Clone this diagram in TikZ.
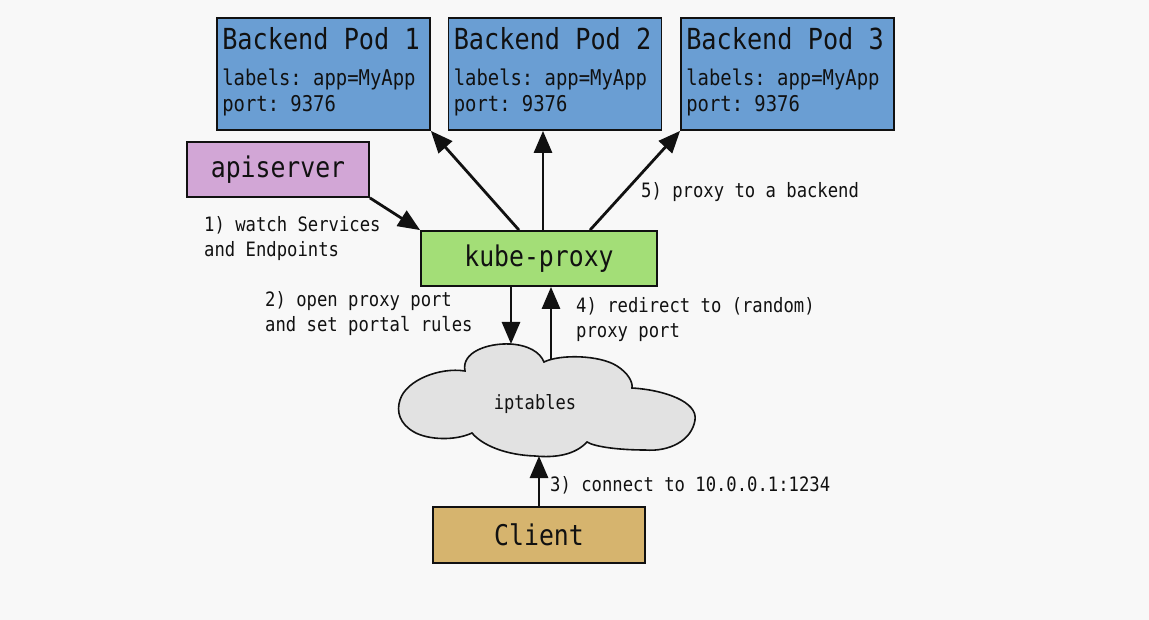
\documentclass[tikz,border=0pt]{standalone}
\usepackage{fontspec}
\setmonofont[FakeStretch=0.87]{DejaVu Sans Mono}
\usetikzlibrary{arrows.meta,calc}

\definecolor{bgwhite}{HTML}{F8F8F8}
\definecolor{podblue}{HTML}{6A9ED3}
\definecolor{apipurple}{HTML}{D2A6D6}
\definecolor{proxygreen}{HTML}{A3DE77}
\definecolor{clienttan}{HTML}{D6B46E}
\definecolor{cloudgray}{HTML}{E2E2E2}
\definecolor{ink}{HTML}{111111}

\begin{document}
\begin{tikzpicture}[x=1pt,y=-1pt,
  box/.style={draw=ink, line width=1.8pt, rectangle, inner sep=0pt},
  flow/.style={draw=ink, line width=2.8pt, -{Triangle[length=22pt,width=18pt]}},
  bigtext/.style={text=ink, font=\ttfamily\fontsize{28.5}{32}\selectfont},
  podline/.style={text=ink, font=\ttfamily\fontsize{21.7}{26}\selectfont, inner sep=0pt, anchor=base west},
  note/.style={text=ink, font=\ttfamily\fontsize{19.8}{25.5}\selectfont, align=left, inner sep=0pt, anchor=north west},
  pod/.style={box, fill=podblue, minimum width=213pt, minimum height=112pt},
]
% canvas
\fill[bgwhite] (0,0) rectangle (1149,620);
\useasboundingbox (0,0) rectangle (1149,620);

% backend pods
\foreach \i/\cx in {1/323.5, 2/555, 3/787.5} {
  \node[pod] (p\i) at (\cx,74) {};
  \node[podline, font=\ttfamily\fontsize{29}{32}\selectfont] (p\i t) at ([shift={(6,32)}]p\i.north west) {Backend Pod \i};
  \node[podline] (p\i l) at ([shift={(6,68)}]p\i.north west) {labels: app=MyApp};
  \node[podline] (p\i p) at ([shift={(6,94)}]p\i.north west) {port: 9376};
}

% control plane and proxy
\node[box, fill=apipurple, minimum width=182pt, minimum height=55pt, bigtext] (api) at (278,169.5) {apiserver};
\node[box, fill=proxygreen, minimum width=236pt, minimum height=55pt, bigtext] (kp) at (539,258.5) {kube-proxy};

% iptables cloud
\draw[draw=ink, fill=cloudgray, line width=1.6pt]
  (465,371) .. controls (461,352) and (488,343) .. (510,344)
  .. controls (528,345) and (540,352) .. (544,362)
  .. controls (560,354) and (600,355) .. (617,366)
  .. controls (628,373) and (633,382) .. (632,388)
  .. controls (665,390) and (698,402) .. (695,420)
  .. controls (692,440) and (670,452) .. (645,450)
  .. controls (620,450) and (595,447) .. (587,442)
  .. controls (575,455) and (555,458) .. (535,456)
  .. controls (505,455) and (482,445) .. (472,433)
  .. controls (455,441) and (428,440) .. (414,432)
  .. controls (400,424) and (396,412) .. (400,400)
  .. controls (406,380) and (440,367) .. cycle;
\node[text=ink, font=\ttfamily\fontsize{19.6}{22}\selectfont] (ipt) at (535,404) {iptables};
\coordinate (iptTop) at (511,344);
\coordinate (iptOut) at (552,359);
\coordinate (iptBottom) at (539,456);

% client
\node[box, fill=clienttan, minimum width=212pt, minimum height=56pt, bigtext] (cl) at (539,535) {Client};

% connectors
\draw[flow] (api.south east) -- (kp.north west);
\coordinate (k1) at ($(kp.north)+(-20,0)$);
\coordinate (k2) at ($(kp.north)+(4,0)$);
\coordinate (k3) at ($(kp.north)+(51,0)$);
\draw[flow] (k1) -- (p1.south east);
\draw[flow] (k2) -- (k2 |- p2.south);
\draw[flow] (k3) -- (p3.south west);
\coordinate (kdown) at ($(kp.south)+(-28,0)$);
\coordinate (kup) at ($(kp.south)+(12,0)$);
\draw[flow] (kdown) -- (kdown |- iptTop);
\draw[flow] (kup |- iptOut) -- (kup);
\draw[flow] (cl.north) -- (cl.north |- iptBottom);

% step labels
\node[note] (n1) at (204,216) {1) watch Services\\and Endpoints};
\node[note] (n2) at (265,291) {2) open proxy port\\and set portal rules};
\node[note] (n4) at (576,297) {4) redirect to (random)\\proxy port};
\node[note] (n5) at (641,182) {5) proxy to a backend};
\node[note] (n3) at (550,476) {3) connect to 10.0.0.1:1234};
\end{tikzpicture}
\end{document}
